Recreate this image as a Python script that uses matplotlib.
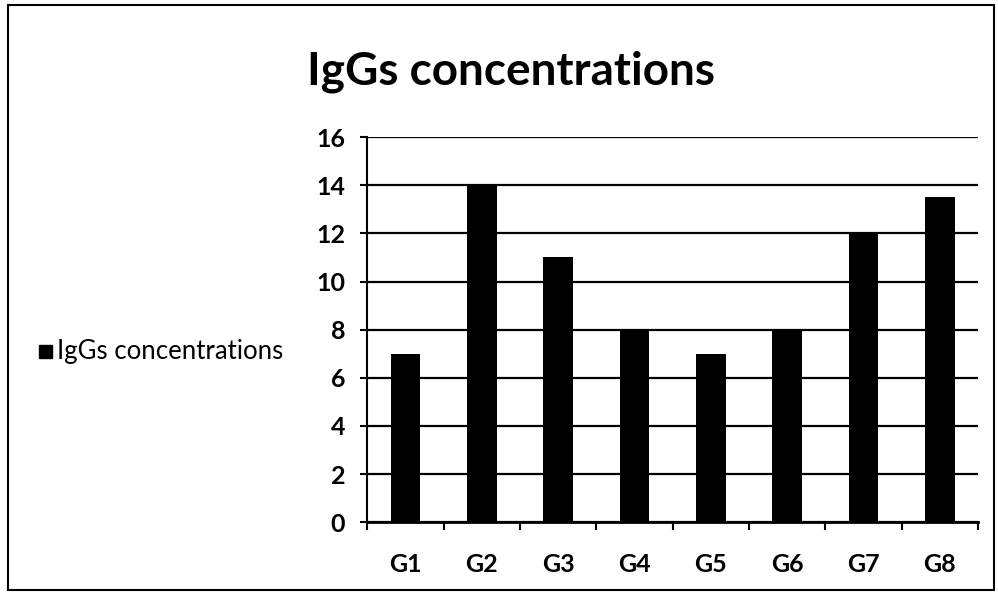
import numpy as np
import matplotlib.pyplot as plt
from matplotlib.patches import Rectangle

# IgG concentrations per group
groups = ['G1', 'G2', 'G3', 'G4', 'G5', 'G6', 'G7', 'G8']
conc = [7, 14, 11, 8, 7, 8, 12, 13.5]

plt.rcParams['font.family'] = ['Lato', 'DejaVu Sans']

fig = plt.figure(figsize=(9.98, 5.94), dpi=100)
ax = fig.add_axes([0.368, 0.121, 0.612, 0.648])

x = np.arange(len(groups))
ax.bar(x, conc, width=0.39, color='black', zorder=3)

ax.set_xlim(-0.5, len(groups) - 0.5)
ax.set_ylim(0, 16)
ax.set_yticks(range(0, 17, 2))
ax.set_xticks(x)
ax.set_xticklabels(groups)
ax.set_xticks(np.arange(-0.5, len(groups), 1), minor=True)
ax.tick_params(axis='x', which='major', length=0, pad=22, labelsize=18)
ax.tick_params(axis='x', which='minor', length=6, width=1.5, direction='out')
ax.tick_params(axis='y', length=5, width=1.5, labelsize=18, pad=11)
for lab in ax.get_xticklabels() + ax.get_yticklabels():
    lab.set_fontweight('bold')

ax.grid(axis='y', color='black', linewidth=1.6, zorder=1)
for s in ['top', 'right']:
    ax.spines[s].set_visible(False)
ax.spines['left'].set_linewidth(1.5)
ax.spines['bottom'].set_linewidth(2)

fig.text(0.512, 0.857, 'IgGs concentrations', ha='center', va='baseline',
         fontsize=33, fontweight='bold')

# legend at left
fig.patches.append(Rectangle((0.039, 0.397), 0.013, 0.022, color='black',
                             transform=fig.transFigure, figure=fig))
fig.text(0.057, 0.396, 'IgGs concentrations', ha='left', va='baseline', fontsize=18.5)

# outer border
fig.patches.append(Rectangle((0.008, 0.006), 0.988, 0.986, fill=False,
                             edgecolor='black', linewidth=1.5,
                             transform=fig.transFigure, figure=fig))

fig.savefig('out.png', dpi=100)
